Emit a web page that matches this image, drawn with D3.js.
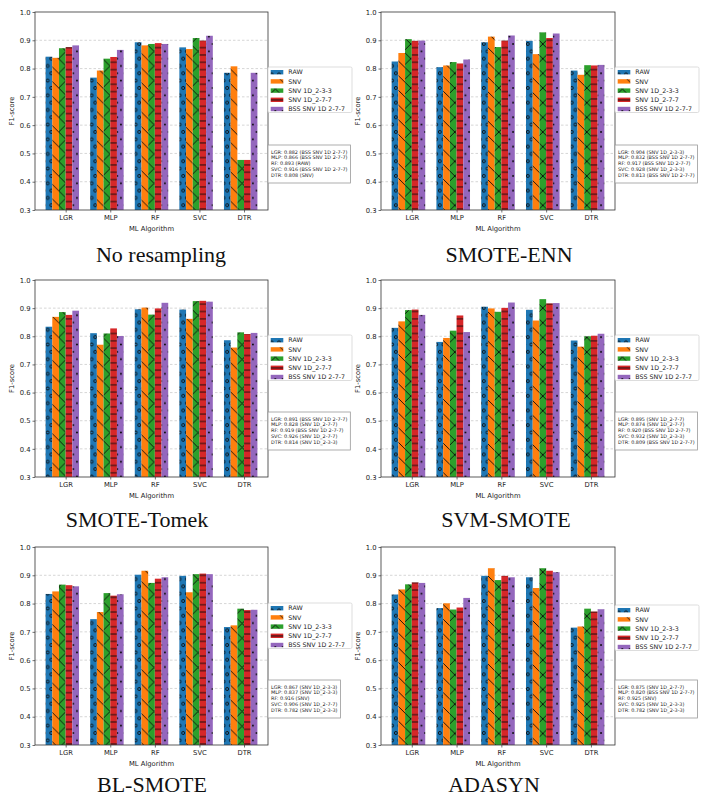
<!DOCTYPE html>
<html>
<head>
<meta charset="utf-8">
<script src="https://cdn.jsdelivr.net/npm/d3@7"></script>
<style>
  body { margin: 0; background: #fff; }
  svg text { font-family: "DejaVu Sans", sans-serif; fill: #222; }
  svg text.caption { font-family: "Liberation Serif", serif; fill: #111; }
</style>
</head>
<body>
<div id="chart"></div>
<script>
var algorithms = ["LGR", "MLP", "RF", "SVC", "DTR"];
var seriesNames = ["RAW", "SNV", "SNV 1D_2-3-3", "SNV 1D_2-7-7", "BSS SNV 1D 2-7-7"];
var yTicks = [0.3, 0.4, 0.5, 0.6, 0.7, 0.8, 0.9, 1.0];
var titles = ["No resampling", "SMOTE-ENN", "SMOTE-Tomek", "SVM-SMOTE", "BL-SMOTE", "ADASYN"];

// one row per series (RAW, SNV, 2-3-3, 2-7-7, BSS), one column per algorithm
var noResampling = [
  [0.842, 0.768, 0.893, 0.875, 0.785],
  [0.838, 0.793, 0.882, 0.869, 0.808],
  [0.872, 0.835, 0.887, 0.908, 0.477],
  [0.876, 0.841, 0.890, 0.899, 0.477],
  [0.882, 0.866, 0.887, 0.916, 0.785]
];
var smoteEnn = [
  [0.825, 0.805, 0.893, 0.898, 0.793],
  [0.855, 0.811, 0.913, 0.851, 0.778],
  [0.904, 0.823, 0.876, 0.928, 0.812],
  [0.898, 0.818, 0.899, 0.908, 0.811],
  [0.899, 0.832, 0.917, 0.924, 0.813]
];
var smoteTomek = [
  [0.834, 0.811, 0.896, 0.895, 0.786],
  [0.869, 0.770, 0.902, 0.862, 0.760],
  [0.886, 0.810, 0.877, 0.925, 0.814],
  [0.876, 0.828, 0.899, 0.926, 0.808],
  [0.891, 0.801, 0.919, 0.923, 0.812]
];
var svmSmote = [
  [0.830, 0.780, 0.905, 0.894, 0.785],
  [0.853, 0.794, 0.899, 0.856, 0.763],
  [0.893, 0.820, 0.887, 0.932, 0.800],
  [0.895, 0.874, 0.901, 0.917, 0.802],
  [0.876, 0.815, 0.920, 0.918, 0.809]
];
var blSmote = [
  [0.834, 0.745, 0.902, 0.898, 0.717],
  [0.843, 0.770, 0.916, 0.840, 0.723],
  [0.867, 0.837, 0.873, 0.904, 0.782],
  [0.865, 0.828, 0.888, 0.906, 0.777],
  [0.861, 0.833, 0.893, 0.904, 0.778]
];
var adasyn = [
  [0.832, 0.784, 0.898, 0.893, 0.715],
  [0.850, 0.801, 0.925, 0.855, 0.719],
  [0.868, 0.779, 0.883, 0.925, 0.782],
  [0.875, 0.786, 0.898, 0.916, 0.772],
  [0.873, 0.820, 0.893, 0.911, 0.780]
];

var colors = ["#1f77b4", "#ff7f0e", "#2ca02c", "#d62728", "#9467bd"];
var hatches = ["o", "\\", "x", "-", "."];

var panelData = [noResampling, smoteEnn, smoteTomek, svmSmote, blSmote, adasyn];
var layout = [
  {left: 35,  right: 268, top: 12,  bottom: 210, legendTop: 67,  noteTop: 145, capX: 161, capY: 262},
  {left: 381, right: 615, top: 12,  bottom: 210, legendTop: 67,  noteTop: 145, capX: 509, capY: 262},
  {left: 35,  right: 268, top: 280, bottom: 477, legendTop: 335, noteTop: 412, capX: 137, capY: 527},
  {left: 381, right: 615, top: 280, bottom: 477, legendTop: 335, noteTop: 412, capX: 506, capY: 527},
  {left: 35,  right: 268, top: 547, bottom: 745, legendTop: 603, noteTop: 680, capX: 152, capY: 792},
  {left: 381, right: 615, top: 547, bottom: 745, legendTop: 605, noteTop: 680, capX: 494, capY: 792}
];

var barW = 0.15;
var svg = d3.select("#chart").append("svg")
  .attr("width", 708)
  .attr("height", 804);

// hatch patterns, roughly matplotlib density
var defs = svg.append("defs");
var s = 7.33, big = 14.67;
hatches.forEach(function (h, k) {
  var pw = (h == "\\" || h == "x") ? big : s;
  var ph = (h == "o" || h == ".") ? 2 * s : pw;
  var p = defs.append("pattern")
    .attr("id", "hatch" + k)
    .attr("patternUnits", "userSpaceOnUse")
    .attr("width", pw).attr("height", ph);
  p.append("rect").attr("width", pw).attr("height", ph).attr("fill", colors[k]);
  var ink = "#0a0a0a";
  if (h == "o" || h == ".") {
    var pts = [[0, 0], [pw, 0], [0, ph], [pw, ph], [pw / 2, ph / 2]];
    pts.forEach(function (q) {
      var c = p.append("circle").attr("cx", q[0]).attr("cy", q[1]);
      if (h == "o") c.attr("r", 1.5).attr("fill", "none").attr("stroke", ink).attr("stroke-width", 0.9);
      else c.attr("r", 0.95).attr("fill", ink);
    });
  } else if (h == "-") {
    p.append("line").attr("x1", 0).attr("x2", pw).attr("y1", ph / 2).attr("y2", ph / 2)
      .attr("stroke", ink).attr("stroke-width", 0.9);
  } else {
    var segs = [[0, 0, pw, ph], [-pw / 2, ph / 2, pw / 2, ph * 1.5], [pw / 2, -ph / 2, pw * 1.5, ph / 2]];
    if (h == "x") segs = segs.concat([[0, ph, pw, 0], [-pw / 2, ph / 2, pw / 2, -ph / 2], [pw / 2, ph * 1.5, pw * 1.5, ph / 2]]);
    segs.forEach(function (d) {
      p.append("line").attr("x1", d[0]).attr("y1", d[1]).attr("x2", d[2]).attr("y2", d[3])
        .attr("stroke", ink).attr("stroke-width", 0.9);
    });
  }
});

function drawPanel(values, L, title) {
  var g = svg.append("g");

  var lo = -3 * barW, hi = 4 + 2 * barW, pad = (hi - lo) * 0.05;
  var xScale = d3.scaleLinear().domain([lo - pad, hi + pad]).range([L.left, L.right]);
  var yScale = d3.scaleLinear().domain([0.3, 1.0]).range([L.bottom, L.top]);
  var bw = xScale(barW) - xScale(0);

  // gridlines
  g.append("g").selectAll("line")
    .data(yTicks.slice(1, -1))
    .enter().append("line")
    .attr("x1", L.left).attr("x2", L.right)
    .attr("y1", function (d) { return yScale(d); })
    .attr("y2", function (d) { return yScale(d); })
    .attr("stroke", "#bbb")
    .attr("stroke-width", 0.6)
    .attr("stroke-dasharray", "2.5,2");

  // bars
  values.forEach(function (row, k) {
    g.append("g").selectAll("rect")
      .data(row)
      .enter().append("rect")
      .attr("x", function (d, i) { return xScale(i + (k - 3) * barW); })
      .attr("y", function (d) { return yScale(d); })
      .attr("width", bw)
      .attr("height", function (d) { return yScale(0.3) - yScale(d); })
      .attr("fill", "url(#hatch" + k + ")");
  });

  // frame
  g.append("rect")
    .attr("x", L.left).attr("y", L.top)
    .attr("width", L.right - L.left).attr("height", L.bottom - L.top)
    .attr("fill", "none").attr("stroke", "#333").attr("stroke-width", 0.8);

  var yAxis = d3.axisLeft(yScale).tickValues(yTicks).tickFormat(d3.format(".1f"))
    .tickSize(2.5).tickPadding(2);
  var xAxis = d3.axisBottom(xScale).tickValues(d3.range(algorithms.length))
    .tickFormat(function (i) { return algorithms[i]; }).tickSize(2.5).tickPadding(2.5);

  var ya = g.append("g").attr("transform", "translate(" + L.left + ",0)").call(yAxis);
  var xa = g.append("g").attr("transform", "translate(0," + L.bottom + ")").call(xAxis);
  [ya, xa].forEach(function (a) {
    a.select(".domain").remove();
    a.selectAll(".tick line").attr("stroke", "#333").attr("stroke-width", 0.7);
    a.selectAll(".tick text").style("font-size", "6.8px").attr("fill", "#222");
  });

  g.append("text")
    .attr("x", (L.left + L.right) / 2).attr("y", L.bottom + 21)
    .attr("text-anchor", "middle").style("font-size", "6.8px")
    .text("ML Algorithm");

  g.append("text")
    .attr("transform", "translate(" + (L.left - 21) + "," + ((L.top + L.bottom) / 2) + ") rotate(-90)")
    .attr("text-anchor", "middle").style("font-size", "6.8px")
    .text("F1-score");

  // legend
  var lg = g.append("g").attr("transform", "translate(" + L.right + "," + L.legendTop + ")");
  lg.append("rect").attr("width", 84).attr("height", 45.5).attr("rx", 1.5)
    .attr("fill", "#fff").attr("stroke", "#d4d4d4").attr("stroke-width", 0.8);
  seriesNames.forEach(function (name, k) {
    var cy = 5.2 + k * 9.2;
    lg.append("rect").attr("x", 2.7).attr("y", cy - 2.2).attr("width", 12.6).attr("height", 4.4)
      .attr("fill", "url(#hatch" + k + ")");
    lg.append("text").attr("x", 20.3).attr("y", cy + 2.2).style("font-size", "6.3px").text(name);
  });

  // best-per-algorithm note
  var notes = algorithms.map(function (alg, i) {
    var col = values.map(function (row) { return row[i]; });
    var best = d3.maxIndex(col);
    return alg + ": " + col[best].toFixed(3) + " (" + seriesNames[best] + ")";
  });
  var ng = g.append("g").attr("transform", "translate(" + L.right + "," + L.noteTop + ")");
  var box = ng.append("rect").attr("height", 38)
    .attr("fill", "#fff").attr("stroke", "#999").attr("stroke-width", 0.8);
  var maxLen = 0;
  notes.forEach(function (t, k) {
    var tx = ng.append("text").attr("x", 3).attr("y", 8.5 + k * 5.8)
      .style("font-size", "4.9px").attr("fill", "#333").text(t);
    maxLen = Math.max(maxLen, tx.node().getComputedTextLength());
  });
  box.attr("width", maxLen + 6);

  g.append("text")
    .attr("class", "caption")
    .attr("x", L.capX).attr("y", L.capY)
    .attr("text-anchor", "middle")
    .style("font-size", "22px")
    .text(title);
}

panelData.forEach(function (values, p) {
  drawPanel(values, layout[p], titles[p]);
});
</script>
</body>
</html>
